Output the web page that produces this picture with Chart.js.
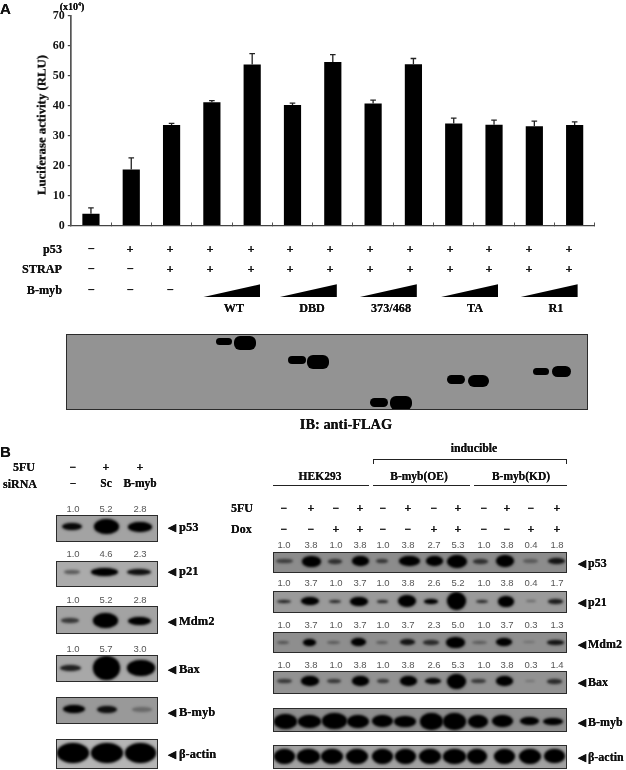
<!DOCTYPE html>
<html>
<head>
<meta charset="utf-8">
<script src="https://cdn.jsdelivr.net/npm/chart.js@4"></script>
<style>
  html, body { margin: 0; padding: 0; background: #fff; }
  #page { position: relative; width: 626px; height: 770px; overflow: hidden; font-family: "Liberation Serif", serif; }
  #chartBox { position: absolute; left: 0; top: 0; width: 626px; height: 240px; }
  .t { position: absolute; white-space: nowrap; font-weight: bold; line-height: 1; color: #111; will-change: transform; text-shadow: 0 0 0.5px #000; }
  .ratio { font-family: "Liberation Sans", sans-serif; font-weight: normal; font-size: 9.5px; color: #555; text-shadow: none; }
  .panel { position: absolute; box-sizing: border-box; border: 1.5px solid #2b2b2b; overflow: hidden; }
  .band { position: absolute; background: #000; border-radius: 50%; filter: blur(1px); box-shadow: 0 0 3px rgba(0,0,0,.55); }
  .flag .band { border-radius: 6px; filter: blur(0.7px); box-shadow: none; }
  .rule { position: absolute; background: #222; }
  .wedge { position: absolute; background: #000; clip-path: polygon(0 100%, 100% 0, 100% 100%); }
</style>
</head>
<body>
<div id="page">
  <div id="chartBox"><canvas id="barChart"></canvas></div>
</div>
<script>
// panel A
const categories = ['1','2','3','4','5','6','7','8','9','10','11','12','13'];
const luciferase = [3.9, 18.7, 33.6, 41.2, 53.8, 40.3, 54.6, 40.8, 53.9, 34.1, 33.7, 33.2, 33.6];
const errorTops = [5.9, 22.6, 34.1, 41.7, 57.4, 40.9, 57.1, 41.9, 55.8, 35.9, 35.2, 34.9, 34.6];
const yTicks = [0, 10, 20, 30, 40, 50, 60, 70];
const p53Row = ['−','+','+','+','+','+','+','+','+','+','+','+','+'];
const strapRow = ['−','−','+','+','+','+','+','+','+','+','+','+','+'];
const bmybRow = ['−','−','−'];
const rowX = [90.8, 130.4, 170.4, 210.4, 250.8, 290.4, 330, 370, 409.6, 450, 489.2, 528.8, 569.2];
const wedgeNames = ['WT', 'DBD', '373/468', 'TA', 'R1'];
const wedgeNameX = [233.6, 312.4, 391.2, 475.2, 556];
const wedgeX = [202.4, 278.8, 358.8, 440, 519.6];

// anti-FLAG blot: centre x, centre y, width, height
const flagBands = [
  [224.6, 342, 16.6, 7], [245.5, 343.7, 22.4, 14],
  [297.2, 360.7, 18, 8], [318.8, 362.7, 21.6, 13.4],
  [379.6, 403, 17.8, 9], [401.8, 403.7, 22, 13.4],
  [456.4, 380, 17.6, 8.5], [479.2, 381.7, 20.8, 12],
  [541.4, 372, 16.4, 7.5], [562.4, 372, 19.2, 11]
];

// panel B left
const leftLanes = [72.7, 106, 140];
const leftFive = ['−', '+', '+'];
const leftSirna = ['−', 'Sc', 'B-myb'];
const leftRatios = [
  [509, ['1.0', '5.2', '2.8']],
  [554, ['1.0', '4.6', '2.3']],
  [600, ['1.0', '5.2', '2.8']],
  [649, ['1.0', '5.7', '3.0']]
];
// top, bottom, band y, background, label, label y, bands as [x, w, h, darkness]
const leftBlots = [
  [515.3, 541.7, 527.3, '#a3a3a3', 'p53', 526.7, [[73, 20, 7, .95], [107.3, 25, 15, 1], [141, 24, 10, 1]]],
  [560.7, 586.7, 572.3, '#ababab', 'p21', 570.7, [[73, 16, 4, .45], [105, 27, 8, 1], [140, 24, 6, .9]]],
  [606, 634, 621, '#a3a3a3', 'Mdm2', 621, [[71, 18, 5, .65], [106, 25, 15, 1], [140, 23, 8, 1]]],
  [655, 681.7, 668, '#a8a8a8', 'Bax', 668.7, [[71, 21, 6, .8], [107, 27, 24, 1], [142, 28, 16, 1]]],
  [696.7, 724, 710, '#999999', 'B-myb', 711.7, [[75, 22, 8, 1], [108, 20, 7, .9], [143, 20, 5, .3]]],
  [739.3, 769.3, 754, '#b5b5b5', 'β-actin', 754, [[73, 32, 20, 1], [107.5, 32, 20, 1], [141, 31, 20, 1]]]
];

// panel B right
const rightLanes = [284.3, 310.7, 336, 360, 382.7, 408.3, 434, 457.7, 484.3, 506.7, 531, 556.7];
const rightFive = ['−','+','−','+','−','+','−','+','−','+','−','+'];
const rightDox = ['−','−','+','+','−','−','+','+','−','−','+','+'];
const rightRatios = [
  [545, ['1.0','3.8','1.0','3.8','1.0','3.8','2.7','5.3','1.0','3.8','0.4','1.8']],
  [583.3, ['1.0','3.7','1.0','3.7','1.0','3.8','2.6','5.2','1.0','3.8','0.4','1.7']],
  [625, ['1.0','3.7','1.0','3.7','1.0','3.7','2.3','5.0','1.0','3.7','0.3','1.3']],
  [665, ['1.0','3.8','1.0','3.8','1.0','3.8','2.6','5.3','1.0','3.8','0.3','1.4']]
];
const rightBlots = [
  [551.7, 573.3, 562, '#8c8c8c', 'p53', 563, [[285, 17, 4, .55], [312, 19, 11, 1], [336, 14, 5, .65], [361, 17, 10, 1], [383, 12, 4, .6], [410, 21, 10, 1], [435, 17, 10, 1], [458, 20, 13, 1], [481, 15, 5, .65], [506, 18, 12, 1], [531, 15, 4, .35], [557, 17, 6, .85]]],
  [590.7, 612.7, 601.7, '#9a9a9a', 'p21', 602, [[285, 14, 3, .75], [311, 18, 8, 1], [336, 12, 3, .7], [360, 18, 9, 1], [383, 11, 3, .7], [408, 18, 12, 1], [432, 14, 5, 1], [457, 19, 18, 1], [483, 12, 3, .7], [507, 16, 11, 1], [532, 10, 2, .3], [556, 15, 5, .8]]],
  [631.7, 653.3, 642.7, '#8e8e8e', 'Mdm2', 644, [[284, 12, 3, .4], [310, 13, 7, 1], [334, 13, 3, .35], [359, 15, 8, 1], [383, 12, 3, .35], [408, 15, 6, .85], [432, 16, 5, .7], [456, 19, 11, 1], [480, 15, 3, .35], [505, 16, 8, 1], [530, 12, 2, .2], [556, 17, 5, .85]]],
  [671, 694.3, 681.7, '#929292', 'Bax', 682, [[285, 15, 4, .6], [311, 18, 10, 1], [335, 14, 4, .6], [361, 17, 10, 1], [384, 12, 4, .6], [409, 17, 10, 1], [434, 16, 6, .95], [457, 19, 15, 1], [479, 15, 4, .6], [505, 17, 10, 1], [531, 10, 2, .2], [555, 15, 5, .7]]],
  [708.3, 731.7, 721.7, '#8e8e8e', 'B-myb', 722, [[286, 23, 15, 1], [310, 23, 13, 1], [335, 25, 16, 1], [359, 22, 13, 1], [383, 21, 12, 1], [406, 22, 11, 1], [432, 23, 17, 1], [455, 23, 17, 1], [479, 20, 13, 1], [503, 21, 12, 1], [530, 19, 8, 1], [554, 20, 7, 1]]],
  [745, 769.3, 756.7, '#a2a2a2', 'β-actin', 757, [[285, 21, 15, 1], [309, 23, 15, 1], [333, 22, 15, 1], [358, 22, 15, 1], [383, 21, 15, 1], [406, 21, 15, 1], [431, 22, 15, 1], [455, 23, 15, 1], [478, 20, 15, 1], [505, 21, 15, 1], [531, 22, 15, 1], [555, 21, 14, 1]]]
];

const page = document.getElementById('page');

// x,y is the anchor point, align is left / center / right
function label(text, x, y, size, align, cls) {
  const el = document.createElement('div');
  el.className = 't' + (cls ? ' ' + cls : '');
  el.innerHTML = text;
  el.style.left = x + 'px';
  el.style.top = y + 'px';
  if (size) el.style.fontSize = size + 'px';
  const dx = align === 'right' ? '-100%' : align === 'left' ? '0' : '-50%';
  el.style.transform = `translate(${dx}, -50%)`;
  page.appendChild(el);
  return el;
}

function rule(x, y, w, h) {
  const el = document.createElement('div');
  el.className = 'rule';
  el.style.cssText = `left:${x}px;top:${y}px;width:${w}px;height:${h}px`;
  page.appendChild(el);
}

function blot(left, right, top, bottom, bg, bands, extraClass) {
  const el = document.createElement('div');
  el.className = 'panel' + (extraClass ? ' ' + extraClass : '');
  el.style.cssText = `left:${left}px;top:${top}px;width:${right - left}px;height:${bottom - top}px;background:${bg}`;
  bands.forEach(([cx, cy, w, h, dark]) => {
    const b = document.createElement('div');
    b.className = 'band';
    b.style.cssText = `left:${cx - w / 2 - left - 1.5}px;top:${cy - h / 2 - top - 1.5}px;width:${w}px;height:${h}px;opacity:${dark === undefined ? 1 : dark}`;
    el.appendChild(b);
  });
  page.appendChild(el);
}

const errorBars = {
  id: 'errorBars',
  afterDatasetsDraw(chart) {
    const { ctx, scales: { x, y } } = chart;
    ctx.save();
    ctx.strokeStyle = '#222';
    ctx.lineWidth = 1.3;
    errorTops.forEach((top, i) => {
      const px = x.getPixelForValue(i);
      ctx.beginPath();
      ctx.moveTo(px, y.getPixelForValue(luciferase[i]));
      ctx.lineTo(px, y.getPixelForValue(top));
      ctx.moveTo(px - 2.8, y.getPixelForValue(top));
      ctx.lineTo(px + 2.8, y.getPixelForValue(top));
      ctx.stroke();
    });
    ctx.restore();
  }
};

new Chart(document.getElementById('barChart'), {
  type: 'bar',
  data: {
    labels: categories,
    datasets: [{
      data: luciferase,
      backgroundColor: '#000',
      borderWidth: 0,
      barPercentage: 1,
      categoryPercentage: 17.2 / 40.33
    }]
  },
  plugins: [errorBars],
  options: {
    responsive: true,
    maintainAspectRatio: false,
    animation: false,
    layout: { padding: { top: 16, right: 31.2, bottom: 14.5, left: 0 } },
    plugins: { legend: { display: false }, tooltip: { enabled: false } },
    scales: {
      x: {
        afterFit: s => { s.height = 0; },
        ticks: { display: false },
        border: { color: '#444', width: 1.3 },
        grid: { offset: true, drawOnChartArea: false, color: '#555', tickLength: -3, lineWidth: 1 }
      },
      y: {
        min: 0,
        max: 70,
        afterFit: s => { s.width = 70.8; },
        afterBuildTicks: s => { s.ticks = yTicks.map(v => ({ value: v })); },
        border: { color: '#555', width: 1.7 },
        grid: { drawOnChartArea: false, color: '#444', tickLength: 3, lineWidth: 1.2 },
        ticks: {
          padding: 3,
          color: '#111',
          font: { family: 'Liberation Serif', weight: 'bold', size: 12 }
        }
      }
    }
  }
});

// panel A text
label('A', 0, 7.5, 15, 'left').style.fontFamily = '"Liberation Sans", sans-serif';
label('(x10<sup style="font-size:6px;line-height:0">4</sup>)', 71.6, 7, 10);
const yTitle = label('Luciferase activity (RLU)', 42, 125, 12.8);
yTitle.style.transform = 'translate(-50%, -50%) rotate(-90deg)';

label('p53', 62, 248.7, 12.2, 'right');
label('STRAP', 62, 269, 12.2, 'right');
label('B-myb', 62, 290, 12.2, 'right');
p53Row.forEach((s, i) => label(s, rowX[i], 248.7, 12.5));
strapRow.forEach((s, i) => label(s, rowX[i], 269, 12.5));
bmybRow.forEach((s, i) => label(s, rowX[i], 290, 12.5));

wedgeX.forEach(x => {
  const w = document.createElement('div');
  w.className = 'wedge';
  w.style.cssText = `left:${x}px;top:284.3px;width:58px;height:13px`;
  page.appendChild(w);
});
wedgeNames.forEach((n, i) => label(n, wedgeNameX[i], 308, 12.2));

blot(66.4, 588, 334.3, 410, '#939393', flagBands.map(([x, y, w, h]) => [x, y, w, h]), 'flag');
label('IB: anti-FLAG', 346, 424.3, 14.4);

// panel B left
label('B', 0, 451, 15, 'left').style.fontFamily = '"Liberation Sans", sans-serif';
label('5FU', 35, 467, 12, 'right');
label('siRNA', 37, 484, 12, 'right');
leftFive.forEach((s, i) => label(s, leftLanes[i], 467, 12));
leftSirna.forEach((s, i) => label(s, leftLanes[i], 484, 11.5));
leftRatios.forEach(([y, row]) => row.forEach((s, i) => label(s, leftLanes[i], y, 9.5, 'center', 'ratio')));
leftBlots.forEach(([top, bottom, cy, bg, name, ly, bands]) => {
  blot(55.7, 158, top, bottom, bg, bands.map(([x, w, h, d]) => [x, cy, w, h, d]));
  label('◀', 172, ly, 11).style.fontFamily = '"DejaVu Sans", sans-serif';
  label(name, 179, ly, 12.5, 'left');
});

// panel B right
label('inducible', 474, 449, 11.8);
rule(373.3, 459, 194, 1);
rule(373.3, 459, 1, 5);
rule(566.3, 459, 1, 5);
label('HEK293', 320, 477, 11.5);
label('B-myb(OE)', 419, 477, 11.5);
label('B-myb(KD)', 521, 477, 11.5);
rule(273, 485.2, 96, 1);
rule(373.3, 485.2, 96.7, 1);
rule(474, 485.2, 93.3, 1);
label('5FU', 231, 507.5, 12, 'left');
label('Dox', 231, 529, 12, 'left');
rightFive.forEach((s, i) => label(s, rightLanes[i], 507.5, 12));
rightDox.forEach((s, i) => label(s, rightLanes[i], 529, 12));
rightRatios.forEach(([y, row]) => row.forEach((s, i) => label(s, rightLanes[i], y, 9.5, 'center', 'ratio')));
rightBlots.forEach(([top, bottom, cy, bg, name, ly, bands]) => {
  blot(273.3, 566.7, top, bottom, bg, bands.map(([x, w, h, d]) => [x, cy, w, h, d]));
  label('◀', 582, ly, 11).style.fontFamily = '"DejaVu Sans", sans-serif';
  label(name, 588, ly, 12, 'left');
});
</script>
</body>
</html>
